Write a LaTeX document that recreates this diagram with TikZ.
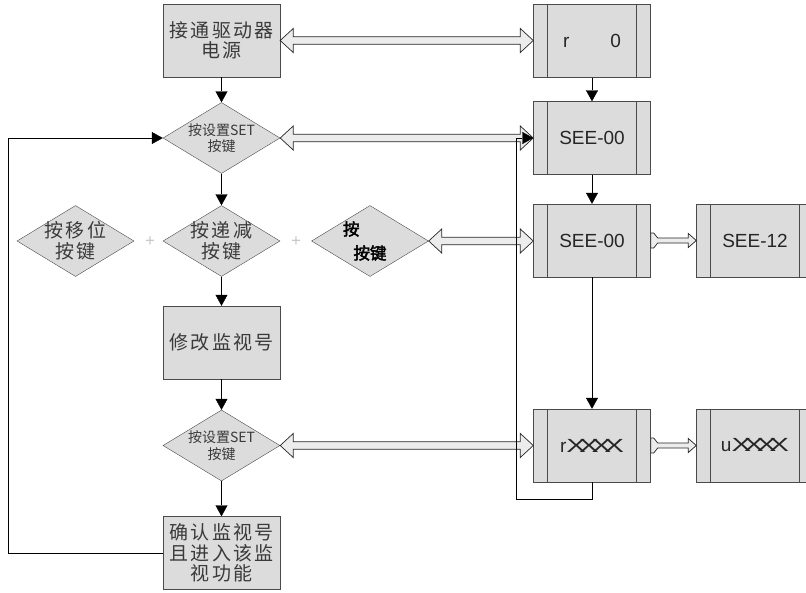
\documentclass[tikz,border=0pt]{standalone}
\usepackage{fontspec}
\setmainfont{Liberation Sans}
\newfontfamily\cjk{Noto Sans CJK SC}
\newfontfamily\cjklargo[LetterSpace=12]{Noto Sans CJK SC}
\newfontfamily\cjkgrasso[FakeBold=2.5]{Noto Sans CJK SC}
\usepackage{graphicx}
\usepackage{tikz}
\usetikzlibrary{arrows.meta, shapes.geometric, calc}
\definecolor{grigio}{HTML}{DCDCDC}
\definecolor{bordo}{HTML}{4A4A4A}
\definecolor{testo}{HTML}{3A3A3A}
\tikzset{
  blocco/.style={rectangle,draw=bordo,fill=grigio,minimum width=117pt,minimum height=73pt,inner sep=0pt,align=center,font=\cjklargo\fontsize{19}{20.5}\selectfont,text=testo},
  rombo/.style={diamond,draw=bordo,fill=grigio,minimum width=117pt,minimum height=71pt,inner sep=-12pt,align=center,text=testo},
  display/.style={blocco,font=\fontsize{19}{21}\selectfont,text=black!85,
    path picture={
      \draw[bordo] ([xshift=14pt]path picture bounding box.south west) -- ([xshift=14pt]path picture bounding box.north west);
      \draw[bordo] ([xshift=-14pt]path picture bounding box.south east) -- ([xshift=-14pt]path picture bounding box.north east);}},
  freccia/.style={-{Triangle[length=11pt,width=12pt]},black},
  cava/.style={draw=black!85,line width=0.7pt,fill=grigio!55},
  piu/.style={font=\fontsize{17}{17}\selectfont,text=black!22}
}
\newcommand{\croce}{\scalebox{1.55}[1]{X}}
\newcommand{\frecciadoppia}[2]{%
  \filldraw[cava] let \p1=(#1.east), \p2=(#2.west) in
    (\x1,\y1) -- (\x1+13pt,\y1+12pt) -- (\x1+13pt,\y1+3.75pt) -- (\x2-13pt,\y1+3.75pt)
    -- (\x2-13pt,\y1+12pt) -- (\x2,\y1) -- (\x2-13pt,\y1-12pt) -- (\x2-13pt,\y1-3.75pt)
    -- (\x1+13pt,\y1-3.75pt) -- (\x1+13pt,\y1-12pt) -- cycle;}
\newcommand{\frecciasingola}[2]{%
  \filldraw[cava] let \p1=(#1.east), \p2=(#2.west) in
    (\x1,\y1+7.5pt) -- (\x1+3pt,\y1+7.5pt) -- (\x1+7pt,\y1+2.5pt) -- (\x2-8pt,\y1+2.5pt)
    -- (\x2-8pt,\y1+7pt) -- (\x2,\y1) -- (\x2-8pt,\y1-7pt) -- (\x2-8pt,\y1-2.5pt)
    -- (\x1+7pt,\y1-2.5pt) -- (\x1+3pt,\y1-7.5pt) -- (\x1,\y1-7.5pt) -- cycle;}

\begin{document}
\begin{tikzpicture}[x=1pt,y=-1pt]
\useasboundingbox (0,0) rectangle (806,592);

% colonna dei passi
\node[blocco] (alim) at (221.5,40.5) {接通驱动器\\电源};
\node[rombo,font=\cjk\fontsize{14}{16.5}\selectfont] (set1) at (221.5,138) {按设置SET\\按键};
\node[rombo,font=\cjklargo\fontsize{19}{20.5}\selectfont] (decr) at (221.5,241) {按递减\\按键};
\node[rombo,font=\cjklargo\fontsize{19}{20.5}\selectfont] (sposta) at (75.5,241) {按移位\\按键};
\node[rombo,font=\cjkgrasso\fontsize{16.5}{24}\selectfont,text=black] (tasto) at (370,241) {\makebox[54pt][l]{按}\\按键};
\node[blocco] (modifica) at (221.5,342.5) {修改监视号};
\node[rombo,font=\cjk\fontsize{14}{16.5}\selectfont] (set2) at (221.5,445.5) {按设置SET\\按键};
\node[blocco] (conferma) at (221.5,553) {确认监视号\\且进入该监\\视功能};

% segni piu
\node[piu] (piuA) at (150,242) {+};
\node[piu] (piuB) at (296,242) {+};

% colonna del display
\node[display] (r0) at (592,41) {r\hspace{41pt}0};
\node[display] (see1) at (592,138) {SEE-00};
\node[display] (see2) at (592,240.5) {SEE-00};
\node[display] (see12) at (755,240.5) {SEE-12};
\node[display] (rx) at (592,445.5) {r\croce\kern-7pt\croce\kern-7pt\croce\kern-7pt\croce};
\node[display] (ux) at (755,445.5) {u\croce\kern-7pt\croce\kern-7pt\croce\kern-7pt\croce};

% frecce piene
\foreach \a/\b in {alim/set1, set1/decr, decr/modifica, modifica/set2, set2/conferma,
                   r0/see1, see1/see2, see2/rx}{
  \draw[freccia] (\a) -- (\b);
}

% frecce cave
\foreach \a/\b in {alim/r0, set1/see1, tasto/see2, set2/rx}{
  \frecciadoppia{\a}{\b}
}
\frecciasingola{see2}{see12}
\frecciasingola{rx}{ux}

% ritorni
\draw[freccia] (conferma.west) -- ++(-155,0) |- (set1.west);
\draw[freccia] (rx.south) -- ++(0,17) -| ([xshift=-17pt]see1.west) -- (see1.west);

\end{tikzpicture}
\end{document}
